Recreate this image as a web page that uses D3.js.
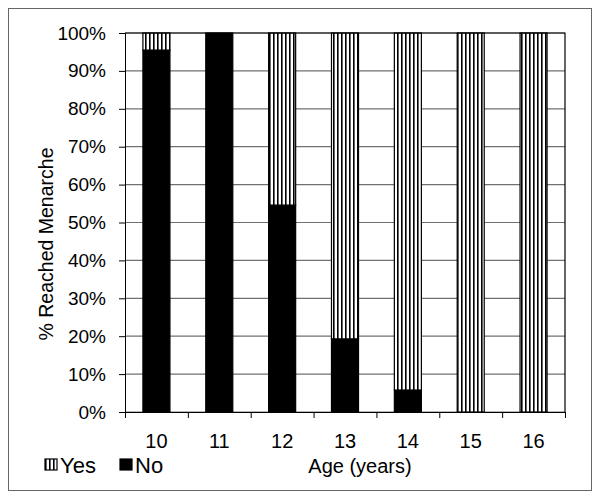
<!DOCTYPE html>
<html>
<head>
<meta charset="utf-8">
<script src="https://cdn.jsdelivr.net/npm/d3@7"></script>
<style>
	body { margin: 0; background: #fff; }
	text { font-family: "Liberation Sans", Arial, sans-serif; fill: #000; }
	.axis path, .axis line { stroke: #000; }
	.grid line { stroke: #707070; stroke-width: 1.2; }
</style>
</head>
<body>
<div id="root"></div>
<script>

// ages on the x axis
const ages = ["10", "11", "12", "13", "14", "15", "16"];
// share (%) that had not reached menarche
const noValues = [95.5, 100, 54.6, 19.3, 5.8, 0, 0];
// share (%) that had reached it
const yesValues = [4.5, 0, 45.4, 80.7, 94.2, 100, 100];
const yTicks = [0, 10, 20, 30, 40, 50, 60, 70, 80, 90, 100];

function drawChart() {
	const width = 601;
	const height = 500;
	const margin = {top: 33, right: 36, bottom: 88, left: 125};
	const plotW = width - margin.left - margin.right;
	const plotH = height - margin.top - margin.bottom;

	let svg = d3.select("#root")
				.append("svg")
				.attr("width", width)
				.attr("height", height);

	// vertical stripe fill for "Yes"
	let defs = svg.append("defs");
	let pat = defs.append("pattern")
		.attr("id", "stripes")
		.attr("patternUnits", "userSpaceOnUse")
		.attr("width", 4)
		.attr("height", 4);
	pat.append("rect").attr("width", 4).attr("height", 4).attr("fill", "#fff");
	pat.append("rect").attr("x", 0).attr("width", 1.6).attr("height", 4).attr("fill", "#000");

	// outer frame
	svg.append("rect")
		.attr("x", 8.5).attr("y", 8.5)
		.attr("width", 583).attr("height", 482)
		.attr("fill", "none")
		.attr("stroke", "#666");

	let g = svg.append("g").attr("transform", "translate(" + margin.left + "," + margin.top + ")");

	const x = d3.scaleBand()
		.domain(ages)
		.range([0, plotW])
		.paddingInner(0.57)
		.paddingOuter(0.285);
	const xEdges = d3.scaleLinear().domain([0, ages.length]).range([0, plotW]);
	const y = d3.scaleLinear().domain([0, 100]).range([plotH, 0]);

	// gridlines
	g.append("g").attr("class", "grid")
		.selectAll("line")
		.data(yTicks)
		.enter()
		.append("line")
		.attr("x1", 0).attr("x2", plotW)
		.attr("y1", d => y(d)).attr("y2", d => y(d));

	// stacked bars: No at bottom, Yes on top
	const rows = ages.map((a, i) => ({age: a, no: noValues[i], yes: yesValues[i]}));
	const stack = d3.stack().keys(["no", "yes"])(rows);
	const fills = {no: "#000", yes: "url(#stripes)"};

	g.selectAll(".series")
		.data(stack)
		.enter()
		.append("g")
		.attr("class", "series")
		.attr("fill", d => fills[d.key])
		.selectAll("rect")
		.data(d => d.filter(s => s[1] - s[0] > 0))
		.enter()
		.append("rect")
		.attr("x", d => x(d.data.age))
		.attr("width", x.bandwidth())
		.attr("y", d => y(d[1]))
		.attr("height", d => y(d[0]) - y(d[1]))
		.attr("stroke", "#000")
		.attr("stroke-width", 1.2);

	// plot box top and right
	g.append("path")
		.attr("d", "M0,0H" + plotW + "V" + plotH)
		.attr("fill", "none")
		.attr("stroke", "#000")
		.attr("stroke-width", 1.2);

	// y axis
	let yAxis = g.append("g").attr("class", "axis")
		.call(d3.axisLeft(y).tickValues(yTicks).tickFormat(d => d + "%").tickSize(6).tickPadding(13));
	yAxis.selectAll("text").style("font-size", "19px");

	// x axis: ticks at category edges, labels centred under bars
	g.append("g").attr("class", "axis")
		.attr("transform", "translate(0," + plotH + ")")
		.call(d3.axisBottom(xEdges).tickValues(d3.range(ages.length + 1)).tickFormat("").tickSize(6).tickSizeOuter(0));
	let xLab = g.append("g").attr("class", "axis")
		.attr("transform", "translate(0," + plotH + ")")
		.call(d3.axisBottom(x).tickSize(0).tickPadding(22));
	xLab.select(".domain").remove();
	xLab.selectAll("text").style("font-size", "20px");

	// axis titles
	svg.append("text")
		.attr("transform", "translate(53,244) rotate(-90)")
		.attr("text-anchor", "middle")
		.style("font-size", "19.5px")
		.text("% Reached Menarche");

	svg.append("text")
		.attr("x", 360).attr("y", 473)
		.attr("text-anchor", "middle")
		.style("font-size", "20px")
		.text("Age (years)");

	// legend
	const legendItems = [
		{label: "Yes", fill: "url(#stripes)", x: 45},
		{label: "No", fill: "#000", x: 120}
	];
	let legend = svg.append("g").attr("class", "legend");
	let item = legend.selectAll("g")
		.data(legendItems)
		.enter()
		.append("g")
		.attr("transform", d => "translate(" + d.x + ",459)");
	item.append("rect")
		.attr("width", 12).attr("height", 11)
		.attr("fill", d => d.fill)
		.attr("stroke", "#000")
		.attr("stroke-width", 1.2);
	item.append("text")
		.attr("x", 15).attr("y", 13.5)
		.style("font-size", "22px")
		.text(d => d.label);
}

drawChart();
</script>
</body>
</html>
